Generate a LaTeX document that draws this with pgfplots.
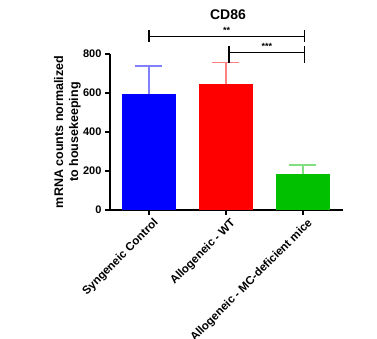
\documentclass[border=0pt]{standalone}
\usepackage{pgfplots}
\pgfplotsset{compat=1.18}
\usepackage{fontspec}
\setmainfont{Liberation Sans}
\definecolor{myblue}{RGB}{0,0,255}
\definecolor{myred}{RGB}{255,0,0}
\definecolor{mygreen}{RGB}{0,192,0}
\begin{document}
\begin{tikzpicture}[x=1pt,y=1pt]
\useasboundingbox (0,0) rectangle (377,339);
\clip (0,0) rectangle (377,339);
\fill[white] (0,0) rectangle (377,339);
\begin{axis}[
  at={(110pt,129pt)}, anchor=south west,
  scale only axis, width=233pt, height=156pt,
  xmin=-0.506, xmax=2.52, ymin=0, ymax=800,
  axis lines=left,
  axis line style={-, line width=1.3pt, black},
  tick style={line width=1.3pt, black},
  tick align=outside, major tick length=5pt,
  xtick={0,1,2},
  xticklabels={Syngeneic Control, Allogeneic - WT, Allogeneic - MC-deficient mice},
  x tick label style={rotate=45, anchor=east, font=\bfseries\fontsize{11.5}{13}\selectfont, inner sep=1pt, xshift=2pt, yshift=-10pt},
  ytick={0,200,400,600,800},
  y tick label style={font=\bfseries\fontsize{11}{13}\selectfont},
  /pgf/number format/assume math mode=true,
  clip=false,
]
\addplot+[ybar, bar width=54pt, bar shift=0pt, fill=myblue, draw=none, mark=none,
  error bars/.cd, y dir=plus, y explicit,
  error bar style={color=myblue!50, line width=1.3pt},
  error mark options={rotate=90, mark size=13.5pt, color=myblue!50, line width=1.3pt}]
  coordinates {(0,593) +- (0,146)};
\addplot+[ybar, bar width=54pt, bar shift=0pt, fill=myred, draw=none, mark=none,
  error bars/.cd, y dir=plus, y explicit,
  error bar style={color=myred!50, line width=1.3pt},
  error mark options={rotate=90, mark size=13.5pt, color=myred!50, line width=1.3pt}]
  coordinates {(1,648) +- (0,107)};
\addplot+[ybar, bar width=54pt, bar shift=0pt, fill=mygreen, draw=none, mark=none,
  error bars/.cd, y dir=plus, y explicit,
  error bar style={color=mygreen!50, line width=1.3pt},
  error mark options={rotate=90, mark size=13.5pt, color=mygreen!50, line width=1.3pt}]
  coordinates {(2,184) +- (0,46)};
% significance brackets
\draw[line width=1.6pt, black] (axis cs:0,890) -- (axis cs:2.02,890);
\draw[line width=1.6pt, black] (axis cs:0,921) -- (axis cs:0,860);
\draw[line width=1.6pt, black] (axis cs:2.02,921) -- (axis cs:2.02,860);
\node[anchor=base, inner sep=0pt, font=\bfseries\fontsize{9}{10}\selectfont] at (axis cs:1.01,903) {**};
\draw[line width=1.6pt, black] (axis cs:1.04,808) -- (axis cs:2.02,808);
\draw[line width=1.6pt, black] (axis cs:1.04,839) -- (axis cs:1.04,755);
\draw[line width=1.6pt, black] (axis cs:2.02,839) -- (axis cs:2.02,755);
\node[anchor=base, inner sep=0pt, font=\bfseries\fontsize{9}{10}\selectfont] at (axis cs:1.53,821) {***};
\end{axis}
\node[font=\bfseries\fontsize{14}{16}\selectfont] at (228,324) {CD86};
\node[rotate=90, align=center, font=\bfseries\fontsize{12.5}{15}\selectfont] at (67.5,207) {mRNA counts normalized\\to housekeeping};
\end{tikzpicture}
\end{document}
